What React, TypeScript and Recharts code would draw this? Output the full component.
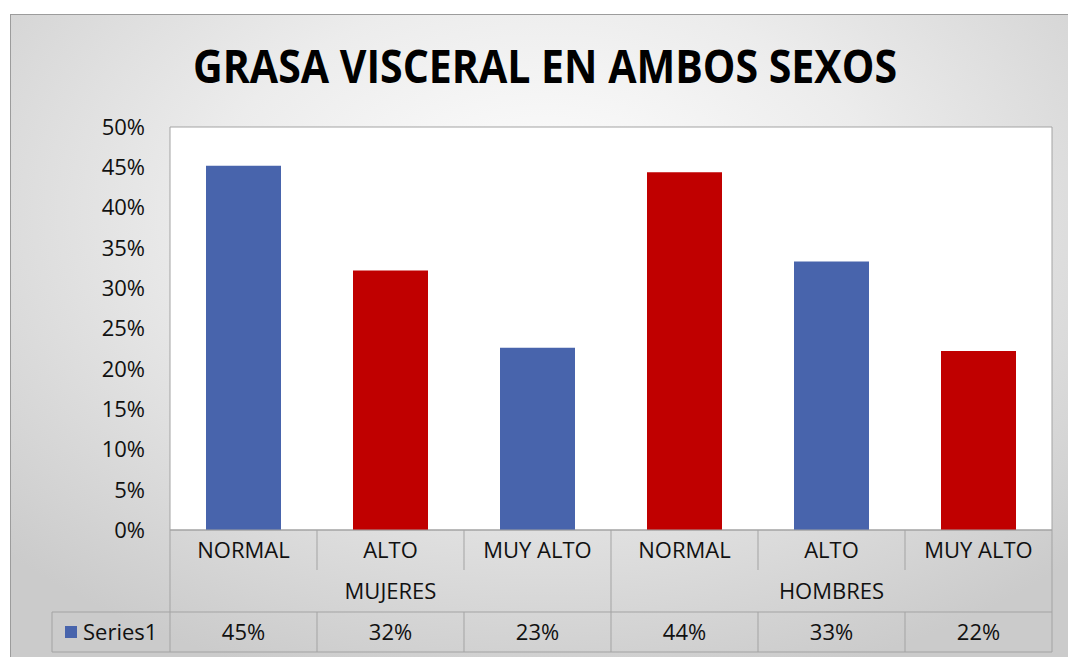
import React from 'react';
import { BarChart, Bar, XAxis, YAxis, CartesianGrid, Cell } from 'recharts';

const categories = ['NORMAL', 'ALTO', 'MUY ALTO', 'NORMAL', 'ALTO', 'MUY ALTO'];
const groups = ['MUJERES', 'HOMBRES'];
const values = [0.452, 0.322, 0.226, 0.444, 0.333, 0.222];
const barColors = ['#4864AC', '#C00000', '#4864AC', '#C00000', '#4864AC', '#C00000'];
const yTicks = [0, 0.05, 0.1, 0.15, 0.2, 0.25, 0.3, 0.35, 0.4, 0.45, 0.5];
const seriesName = 'Series1';
const title = 'GRASA VISCERAL EN AMBOS SEXOS';

const data = categories.map((c, i) => ({ name: c, value: values[i], key: `${c}-${i}` }));

const W = 1068;
const H = 657;
const PLOT_LEFT = 170;
const PLOT_RIGHT = 1052;
const TABLE_LEFT = 52;
const LINE = '#a3a3a3';
const FONT = "'Open Sans', sans-serif";
const FS = 22;

const pct = (v: number) => `${Math.round(v * 100)}%`;

const TableTick = (props: any) => {
  const { x, y, payload } = props;
  const i: number = payload.index;
  const n = categories.length;
  const perGroup = n / groups.length;
  const band = (PLOT_RIGHT - PLOT_LEFT) / n;
  const left = x - band / 2;
  const right = x + band / 2;
  const groupStart = i % perGroup === 0;
  return (
    <g>
      <text x={x} y={y + 28} textAnchor="middle" fontSize={FS} fontFamily={FONT} fill="#111">
        {categories[i]}
      </text>
      {i % perGroup === Math.floor(perGroup / 2) && (
        <text x={x} y={y + 69} textAnchor="middle" fontSize={FS} fontFamily={FONT} fill="#111">
          {groups[Math.floor(i / perGroup)]}
        </text>
      )}
      <text x={x} y={y + 110} textAnchor="middle" fontSize={FS} fontFamily={FONT} fill="#111">
        {pct(values[i])}
      </text>
      <line x1={left} x2={left} y1={y} y2={groupStart ? y + 122 : y + 40} stroke={LINE} />
      {!groupStart && <line x1={left} x2={left} y1={y + 82} y2={y + 122} stroke={LINE} />}
      {i === n - 1 && <line x1={right} x2={right} y1={y} y2={y + 122} stroke={LINE} />}
      {i === 0 && (
        <g>
          <line x1={TABLE_LEFT} x2={PLOT_RIGHT} y1={y + 82} y2={y + 82} stroke={LINE} />
          <line x1={TABLE_LEFT} x2={PLOT_RIGHT} y1={y + 122} y2={y + 122} stroke={LINE} />
          <line x1={TABLE_LEFT} x2={TABLE_LEFT} y1={y + 82} y2={y + 122} stroke={LINE} />
          <rect x={65} y={y + 96} width={12} height={12} fill={barColors[0]} />
          <text x={83} y={y + 110} fontSize={FS} fontFamily={FONT} fill="#111">
            {seriesName}
          </text>
        </g>
      )}
    </g>
  );
};

const App: React.FC = () => {
  return (
    <div style={{ position: 'absolute', left: 0, top: 0, width: W, height: H, overflow: 'hidden', background: '#fff' }}>
      <div
        style={{
          position: 'absolute',
          left: 10,
          top: 14,
          width: W,
          height: H,
          border: '1px solid #9c9c9c',
          background: 'radial-gradient(ellipse 70% 75% at 50% 30%, #ffffff 0%, #ececec 45%, #cbcbcb 100%)',
        }}
      />
      <svg style={{ position: 'absolute', left: 0, top: 0 }} width={W} height={120}>
        <text
          x={545}
          y={83}
          textAnchor="middle"
          fontFamily={FONT}
          fontWeight={700}
          fontSize={46}
          textLength={704}
          lengthAdjust="spacingAndGlyphs"
          fill="#000"
        >
          {title}
        </text>
      </svg>
      <div style={{ position: 'absolute', left: 0, top: 0 }}>
        <BarChart width={W} height={H} data={data} margin={{ top: 127, right: 0, left: 0, bottom: 0 }} barSize={75}>
          <CartesianGrid vertical={false} stroke={LINE} fill="#ffffff" />
          <XAxis
            dataKey="key"
            height={H - 530}
            interval={0}
            axisLine={{ stroke: LINE }}
            tickLine={false}
            tickSize={0}
            tickMargin={0}
            tick={<TableTick />}
          />
          <YAxis
            yAxisId="left"
            width={PLOT_LEFT}
            domain={[0, 0.5]}
            ticks={yTicks}
            tickFormatter={pct}
            axisLine={{ stroke: LINE }}
            tickLine={false}
            tickSize={23}
            tickMargin={2}
            tick={{ fontSize: FS, fontFamily: FONT, fill: '#111' }}
          />
          <YAxis
            yAxisId="right"
            orientation="right"
            width={W - PLOT_RIGHT}
            domain={[0, 0.5]}
            ticks={yTicks}
            axisLine={{ stroke: LINE }}
            tickLine={false}
            tick={false}
          />
          <Bar yAxisId="left" dataKey="value" isAnimationActive={false}>
            {data.map((d, i) => (
              <Cell key={d.key} fill={barColors[i]} />
            ))}
          </Bar>
        </BarChart>
      </div>
    </div>
  );
};

export default App;
